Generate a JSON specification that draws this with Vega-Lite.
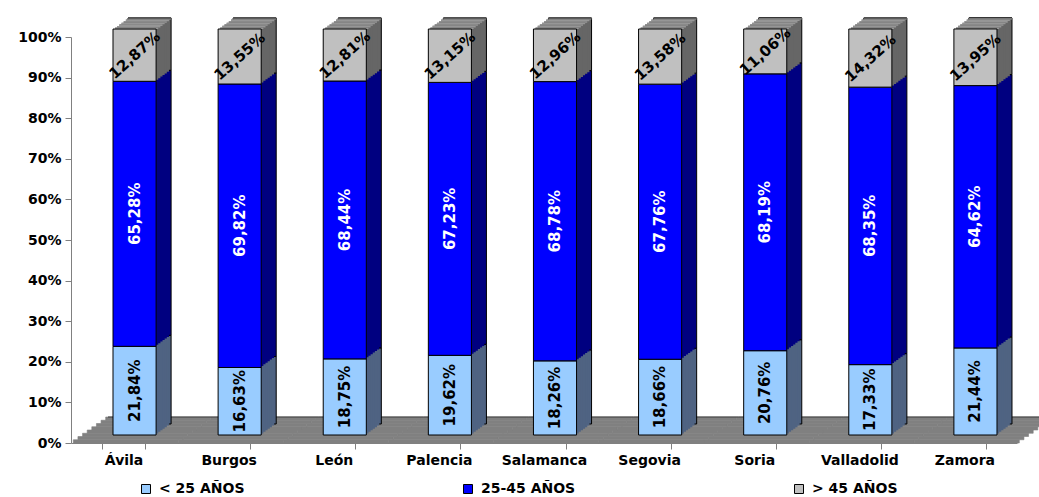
{
  "$schema": "https://vega.github.io/schema/vega-lite/v6.json",
  "width": 946,
  "height": 406,
  "autosize": {"type": "none"},
  "padding": {"left": 71, "top": 37, "right": 22, "bottom": 54},
  "background": "white",
  "config": {
    "view": {"stroke": null},
    "font": "DejaVu Sans",
    "locale": {"number": {"decimal": ",", "thousands": ".", "grouping": [3], "currency": ["", " €"]}},
    "axis": {"domainColor": "#808080", "tickColor": "#808080", "labelFont": "DejaVu Sans", "labelFontWeight": "bold", "labelFontSize": 14, "labelColor": "black", "grid": false, "tickSize": 6, "title": null},
    "axisY": {"labelPadding": 4},
    "axisX": {"labelPadding": 4, "labelAngle": 0, "tickBand": "extent"}
  },
  "data": {"values": [
    {"city": "Ávila", "g": "< 25 AÑOS", "k": 1, "v": 0.2184},
    {"city": "Ávila", "g": "25-45 AÑOS", "k": 2, "v": 0.6528},
    {"city": "Ávila", "g": "> 45 AÑOS", "k": 3, "v": 0.1287},
    {"city": "Burgos", "g": "< 25 AÑOS", "k": 1, "v": 0.1663},
    {"city": "Burgos", "g": "25-45 AÑOS", "k": 2, "v": 0.6982},
    {"city": "Burgos", "g": "> 45 AÑOS", "k": 3, "v": 0.1355},
    {"city": "León", "g": "< 25 AÑOS", "k": 1, "v": 0.1875},
    {"city": "León", "g": "25-45 AÑOS", "k": 2, "v": 0.6844},
    {"city": "León", "g": "> 45 AÑOS", "k": 3, "v": 0.1281},
    {"city": "Palencia", "g": "< 25 AÑOS", "k": 1, "v": 0.1962},
    {"city": "Palencia", "g": "25-45 AÑOS", "k": 2, "v": 0.6723},
    {"city": "Palencia", "g": "> 45 AÑOS", "k": 3, "v": 0.1315},
    {"city": "Salamanca", "g": "< 25 AÑOS", "k": 1, "v": 0.1826},
    {"city": "Salamanca", "g": "25-45 AÑOS", "k": 2, "v": 0.6878},
    {"city": "Salamanca", "g": "> 45 AÑOS", "k": 3, "v": 0.1296},
    {"city": "Segovia", "g": "< 25 AÑOS", "k": 1, "v": 0.1866},
    {"city": "Segovia", "g": "25-45 AÑOS", "k": 2, "v": 0.6776},
    {"city": "Segovia", "g": "> 45 AÑOS", "k": 3, "v": 0.1358},
    {"city": "Soria", "g": "< 25 AÑOS", "k": 1, "v": 0.2076},
    {"city": "Soria", "g": "25-45 AÑOS", "k": 2, "v": 0.6819},
    {"city": "Soria", "g": "> 45 AÑOS", "k": 3, "v": 0.1106},
    {"city": "Valladolid", "g": "< 25 AÑOS", "k": 1, "v": 0.1733},
    {"city": "Valladolid", "g": "25-45 AÑOS", "k": 2, "v": 0.6835},
    {"city": "Valladolid", "g": "> 45 AÑOS", "k": 3, "v": 0.1432},
    {"city": "Zamora", "g": "< 25 AÑOS", "k": 1, "v": 0.2144},
    {"city": "Zamora", "g": "25-45 AÑOS", "k": 2, "v": 0.6462},
    {"city": "Zamora", "g": "> 45 AÑOS", "k": 3, "v": 0.1395}
  ]},
  "transform": [{"stack": "v", "groupby": ["city"], "sort": [{"field": "k", "order": "ascending"}], "as": ["y0", "y1"]}],
  "encoding": {
    "x": {"field": "city", "type": "nominal", "sort": null, "title": null, "scale": {"paddingInner": 0.59, "paddingOuter": 0.295}}
  },
  "layer": [
    {"transform": [{"filter": "datum.k == 1"}], "mark": {"type": "bar", "color": "#808080", "stroke": "#808080", "strokeWidth": 0.6, "width": {"band": 2.439}, "xOffset": 2.31, "yOffset": 0, "y2Offset": -3.25},
     "encoding": {"y": {"datum": 0, "type": "quantitative", "scale": {"domain": [0, 1]}, "axis": {"values": [0, 0.1, 0.2, 0.3, 0.4, 0.5, 0.6, 0.7, 0.8, 0.9, 1], "format": ".0%", "title": null}}, "y2": {"datum": 0}}},
    {"transform": [{"filter": "datum.k == 1"}], "mark": {"type": "bar", "color": "#808080", "stroke": "#808080", "strokeWidth": 0.6, "width": {"band": 2.439}, "xOffset": 6.94, "yOffset": -3.25, "y2Offset": -6.5},
     "encoding": {"y": {"datum": 0, "type": "quantitative"}, "y2": {"datum": 0}}},
    {"transform": [{"filter": "datum.k == 1"}], "mark": {"type": "bar", "color": "#808080", "stroke": "#808080", "strokeWidth": 0.6, "width": {"band": 2.439}, "xOffset": 11.56, "yOffset": -6.5, "y2Offset": -9.75},
     "encoding": {"y": {"datum": 0, "type": "quantitative"}, "y2": {"datum": 0}}},
    {"transform": [{"filter": "datum.k == 1"}], "mark": {"type": "bar", "color": "#808080", "stroke": "#808080", "strokeWidth": 0.6, "width": {"band": 2.439}, "xOffset": 16.19, "yOffset": -9.75, "y2Offset": -13},
     "encoding": {"y": {"datum": 0, "type": "quantitative"}, "y2": {"datum": 0}}},
    {"transform": [{"filter": "datum.k == 1"}], "mark": {"type": "bar", "color": "#808080", "stroke": "#808080", "strokeWidth": 0.6, "width": {"band": 2.439}, "xOffset": 20.81, "yOffset": -13, "y2Offset": -16.25},
     "encoding": {"y": {"datum": 0, "type": "quantitative"}, "y2": {"datum": 0}}},
    {"transform": [{"filter": "datum.k == 1"}], "mark": {"type": "bar", "color": "#808080", "stroke": "#808080", "strokeWidth": 0.6, "width": {"band": 2.439}, "xOffset": 25.44, "yOffset": -16.25, "y2Offset": -19.5},
     "encoding": {"y": {"datum": 0, "type": "quantitative"}, "y2": {"datum": 0}}},
    {"transform": [{"filter": "datum.k == 1"}], "mark": {"type": "bar", "color": "#808080", "stroke": "#808080", "strokeWidth": 0.6, "width": {"band": 2.439}, "xOffset": 30.06, "yOffset": -19.5, "y2Offset": -22.75},
     "encoding": {"y": {"datum": 0, "type": "quantitative"}, "y2": {"datum": 0}}},
    {"transform": [{"filter": "datum.k == 1"}], "mark": {"type": "bar", "color": "#808080", "stroke": "#808080", "strokeWidth": 0.6, "width": {"band": 2.439}, "xOffset": 34.69, "yOffset": -22.75, "y2Offset": -26},
     "encoding": {"y": {"datum": 0, "type": "quantitative"}, "y2": {"datum": 0}}},
    {"transform": [{"filter": "datum.k == 1"}], "mark": {"type": "bar", "color": "#3a3a3a", "width": {"band": 2.44}, "xOffset": 37, "yOffset": -25.6, "y2Offset": -26.6},
     "encoding": {"y": {"datum": 0, "type": "quantitative"}, "y2": {"datum": 0}}},

    {"mark": {"type": "bar", "stroke": "black", "strokeWidth": 1, "xOffset": 26, "yOffset": -19, "y2Offset": -19},
     "encoding": {"y": {"field": "y0", "type": "quantitative"}, "y2": {"field": "y1"}, "fill": {"condition": [{"test": "datum.k == 1", "value": "#4F6382"}, {"test": "datum.k == 2", "value": "#000080"}], "value": "#666666"}}},
    {"transform": [{"filter": "datum.k == 3"}], "mark": {"type": "bar", "color": "#969696", "xOffset": 26, "yOffset": -17.43, "y2Offset": -19},
     "encoding": {"y": {"field": "y1", "type": "quantitative"}, "y2": {"field": "y1"}}},
    {"transform": [{"filter": "datum.k == 3"}], "mark": {"type": "bar", "color": "#222222", "xOffset": 26, "yOffset": -18.6, "y2Offset": -19.6},
     "encoding": {"y": {"field": "y1", "type": "quantitative"}, "y2": {"field": "y1"}}},
    {"mark": {"type": "bar", "xOffset": 23.86, "yOffset": -17.43, "y2Offset": -17.43},
     "encoding": {"y": {"field": "y0", "type": "quantitative"}, "y2": {"field": "y1"}, "fill": {"condition": [{"test": "datum.k == 1", "value": "#4F6382"}, {"test": "datum.k == 2", "value": "#000080"}], "value": "#666666"}}},
    {"transform": [{"filter": "datum.k == 3"}], "mark": {"type": "bar", "color": "#969696", "xOffset": 23.86, "yOffset": -15.86, "y2Offset": -17.43},
     "encoding": {"y": {"field": "y1", "type": "quantitative"}, "y2": {"field": "y1"}}},
    {"mark": {"type": "bar", "xOffset": 21.71, "yOffset": -15.86, "y2Offset": -15.86},
     "encoding": {"y": {"field": "y0", "type": "quantitative"}, "y2": {"field": "y1"}, "fill": {"condition": [{"test": "datum.k == 1", "value": "#4F6382"}, {"test": "datum.k == 2", "value": "#000080"}], "value": "#666666"}}},
    {"transform": [{"filter": "datum.k == 3"}], "mark": {"type": "bar", "color": "#969696", "xOffset": 21.71, "yOffset": -14.29, "y2Offset": -15.86},
     "encoding": {"y": {"field": "y1", "type": "quantitative"}, "y2": {"field": "y1"}}},
    {"mark": {"type": "bar", "xOffset": 19.57, "yOffset": -14.29, "y2Offset": -14.29},
     "encoding": {"y": {"field": "y0", "type": "quantitative"}, "y2": {"field": "y1"}, "fill": {"condition": [{"test": "datum.k == 1", "value": "#4F6382"}, {"test": "datum.k == 2", "value": "#000080"}], "value": "#666666"}}},
    {"transform": [{"filter": "datum.k == 3"}], "mark": {"type": "bar", "color": "#969696", "xOffset": 19.57, "yOffset": -12.71, "y2Offset": -14.29},
     "encoding": {"y": {"field": "y1", "type": "quantitative"}, "y2": {"field": "y1"}}},
    {"mark": {"type": "bar", "xOffset": 17.43, "yOffset": -12.71, "y2Offset": -12.71},
     "encoding": {"y": {"field": "y0", "type": "quantitative"}, "y2": {"field": "y1"}, "fill": {"condition": [{"test": "datum.k == 1", "value": "#4F6382"}, {"test": "datum.k == 2", "value": "#000080"}], "value": "#666666"}}},
    {"transform": [{"filter": "datum.k == 3"}], "mark": {"type": "bar", "color": "#969696", "xOffset": 17.43, "yOffset": -11.14, "y2Offset": -12.71},
     "encoding": {"y": {"field": "y1", "type": "quantitative"}, "y2": {"field": "y1"}}},
    {"mark": {"type": "bar", "xOffset": 15.29, "yOffset": -11.14, "y2Offset": -11.14},
     "encoding": {"y": {"field": "y0", "type": "quantitative"}, "y2": {"field": "y1"}, "fill": {"condition": [{"test": "datum.k == 1", "value": "#4F6382"}, {"test": "datum.k == 2", "value": "#000080"}], "value": "#666666"}}},
    {"transform": [{"filter": "datum.k == 3"}], "mark": {"type": "bar", "color": "#969696", "xOffset": 15.29, "yOffset": -9.57, "y2Offset": -11.14},
     "encoding": {"y": {"field": "y1", "type": "quantitative"}, "y2": {"field": "y1"}}},
    {"mark": {"type": "bar", "xOffset": 13.14, "yOffset": -9.57, "y2Offset": -9.57},
     "encoding": {"y": {"field": "y0", "type": "quantitative"}, "y2": {"field": "y1"}, "fill": {"condition": [{"test": "datum.k == 1", "value": "#4F6382"}, {"test": "datum.k == 2", "value": "#000080"}], "value": "#666666"}}},
    {"transform": [{"filter": "datum.k == 3"}], "mark": {"type": "bar", "color": "#969696", "xOffset": 13.14, "yOffset": -8, "y2Offset": -9.57},
     "encoding": {"y": {"field": "y1", "type": "quantitative"}, "y2": {"field": "y1"}}},

    {"mark": {"type": "bar", "stroke": "black", "strokeWidth": 1, "xOffset": 11, "yOffset": -8, "y2Offset": -8},
     "encoding": {"y": {"field": "y0", "type": "quantitative"}, "y2": {"field": "y1"},
       "color": {"field": "g", "type": "nominal", "scale": {"domain": ["< 25 AÑOS", "25-45 AÑOS", "> 45 AÑOS"], "range": ["#99CCFF", "#0000FF", "#C0C0C0"]},
         "legend": {"orient": "none", "legendX": 68, "legendY": 445, "direction": "horizontal", "title": null, "symbolType": "square", "symbolSize": 81, "symbolStrokeColor": "black", "symbolStrokeWidth": 1, "labelFont": "DejaVu Sans", "labelFontWeight": "bold", "labelFontSize": 14, "labelColor": "black", "columnPadding": 216, "labelOffset": 6,
           "encode": {"symbols": {"update": {"stroke": {"value": "black"}, "strokeWidth": {"value": 1}}}}}}}},
    {"transform": [{"fold": ["y0", "y1"], "as": ["edge", "pos"]}, {"aggregate": [{"op": "mean", "field": "pos", "as": "mid"}], "groupby": ["city", "k", "v"]}],
     "mark": {"type": "text", "font": "DejaVu Sans", "fontWeight": "bold", "fontSize": 15, "xOffset": 11, "yOffset": -8, "align": "center", "baseline": "middle"},
     "encoding": {"y": {"field": "mid", "type": "quantitative"},
       "text": {"field": "v", "type": "quantitative", "format": ".2%"},
       "angle": {"condition": {"test": "datum.k == 3", "value": -42}, "value": 270},
       "color": {"condition": {"test": "datum.k == 2", "value": "white"}, "value": "black"}}}
  ]
}
